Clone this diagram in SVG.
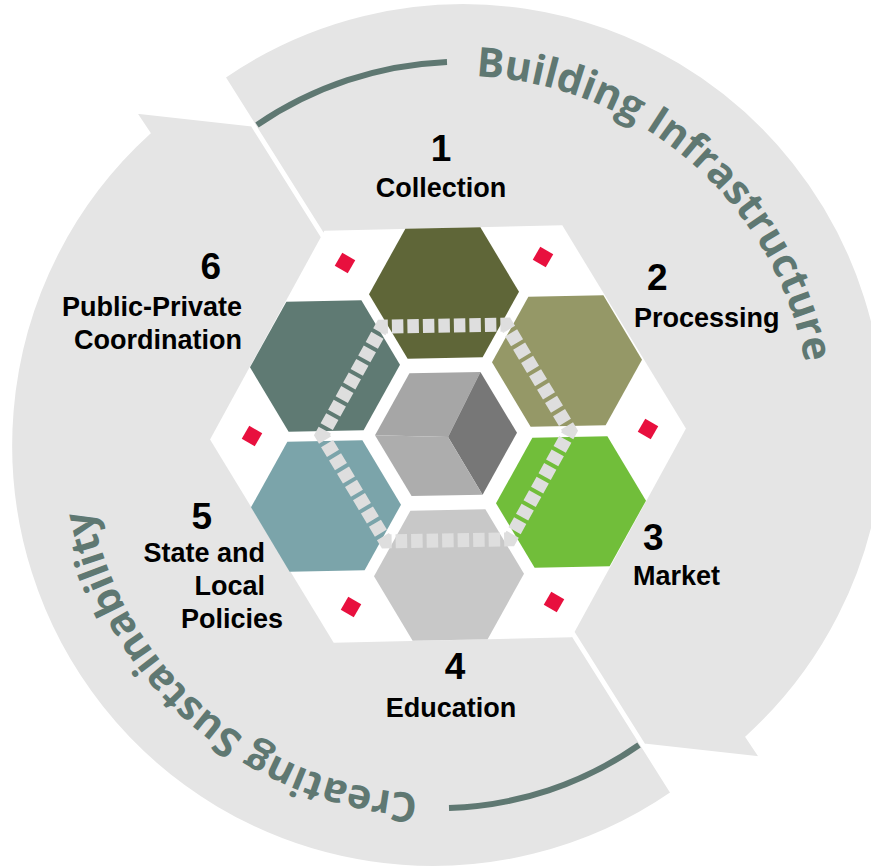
<svg xmlns="http://www.w3.org/2000/svg" width="871" height="866" viewBox="0 0 871 866">
<defs>
<style>
.piece{fill:#e5e5e5;stroke:#ffffff;stroke-width:3;stroke-linejoin:miter}
.bar{fill:none;stroke:#5f7872;stroke-width:6}
.arc-text{font-family:"Open Sans","Noto Sans",sans-serif;font-weight:700;font-size:41px;fill:#5f7872}
.lbl{font-family:"Liberation Sans",Arial,sans-serif;font-weight:700;font-size:27px;fill:#000000}
.num{font-size:37px}
.mark{fill:#e8103e}
.band{fill:none;stroke:#dedede;stroke-width:14;stroke-dasharray:11.5 4;stroke-dashoffset:5.75;stroke-linejoin:miter}
</style>
<polygon id="hex" points="75,0 37.5,65 -37.5,65 -75,0 -37.5,-65 37.5,-65"/>
<rect id="mk" x="-7.5" y="-7.5" width="15" height="15"/>
<path id="tpA" d="M399.1,81.3 A351,351 0 0 1 811,427"/>
<path id="tpB" d="M496.9,788.7 A351,351 0 0 1 85,443"/>
</defs>

<g id="cycle-sustainability">
<path class="piece" d="M672,793 A422,422 0 0 1 149,133 L135,112 L252,125 Z"/>
<path class="bar" d="M639,745 A351,351 0 0 1 449,808"/>
</g>
<g id="cycle-infrastructure">
<path class="piece" d="M224,77 A422,422 0 0 1 747,737 L761,758 L644,745 Z"/>
<path class="bar" d="M257,125 A365,365 0 0 1 447,62"/>
</g>
<g id="cycle-labels">
<text class="arc-text"><textPath href="#tpA" startOffset="312.4" text-anchor="middle">Building Infrastructure</textPath></text>
<text class="arc-text"><textPath href="#tpB" startOffset="312.4" text-anchor="middle">Creating Sustainability</textPath></text>
</g>

<g id="base">
<polygon points="686,434 567,640 329,640 210,434 329,228 567,228" fill="#ffffff" transform="rotate(-1.3 448 434)"/>
<use href="#mk" class="mark" transform="translate(345,263) rotate(30)"/>
<use href="#mk" class="mark" transform="translate(543,257) rotate(30)"/>
<use href="#mk" class="mark" transform="translate(648,429) rotate(30)"/>
<use href="#mk" class="mark" transform="translate(554,602) rotate(30)"/>
<use href="#mk" class="mark" transform="translate(351,607) rotate(30)"/>
<use href="#mk" class="mark" transform="translate(252,436) rotate(30)"/>
</g>

<g id="node-collection">
<use href="#hex" transform="translate(444,293) rotate(-1)" fill="#5f6638"/>
<text class="lbl" text-anchor="middle"><tspan class="num" x="441" y="161">1</tspan><tspan x="441" y="197">Collection</tspan></text>
</g>
<g id="node-processing">
<use href="#hex" transform="translate(567,361) rotate(-1)" fill="#959867"/>
<text class="lbl"><tspan class="num" x="647" y="290">2</tspan><tspan x="634" y="327">Processing</tspan></text>
</g>
<g id="node-market">
<use href="#hex" transform="translate(571,502) rotate(-1)" fill="#71be3a"/>
<text class="lbl"><tspan class="num" x="643" y="550">3</tspan><tspan x="633" y="585">Market</tspan></text>
</g>
<g id="node-education">
<use href="#hex" transform="translate(449,575) rotate(-1)" fill="#c8c8c8"/>
<text class="lbl" text-anchor="middle"><tspan class="num" x="455" y="679">4</tspan><tspan x="451" y="717">Education</tspan></text>
</g>
<g id="node-policies">
<use href="#hex" transform="translate(326,506) rotate(-1)" fill="#7ba4aa"/>
<text class="lbl" text-anchor="end"><tspan class="num" x="212" y="529">5</tspan><tspan x="265" y="562">State and</tspan><tspan x="265" y="595">Local</tspan><tspan x="283" y="628">Policies</tspan></text>
</g>
<g id="node-coordination">
<use href="#hex" transform="translate(325,366) rotate(-1)" fill="#5f7a73"/>
<text class="lbl" text-anchor="end"><tspan class="num" x="221" y="279">6</tspan><tspan x="242" y="316">Public-Private</tspan><tspan x="242" y="349">Coordination</tspan></text>
</g>

<g id="connectors">
<polygon class="band" points="384,325.6 508,325.6 570,433 508,540.4 384,540.4 322,433" transform="rotate(-1 446 433)"/>
</g>

<g id="node-core" transform="translate(446,434) rotate(-1)">
<polygon points="-71,0 -35.5,-61.5 35.5,-61.5 2,3" fill="#a6a6a6"/>
<polygon points="35.5,-61.5 71,0 35.5,61.5 2,3" fill="#777777"/>
<polygon points="-71,0 2,3 35.5,61.5 -35.5,61.5" fill="#adadad"/>
</g>
</svg>
